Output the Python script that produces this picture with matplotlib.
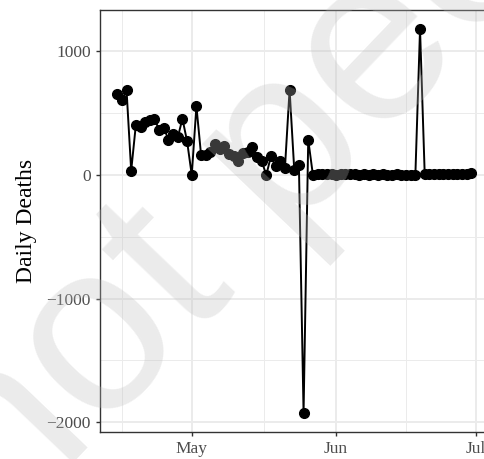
import numpy as np
import pandas as pd
import matplotlib
matplotlib.use('Agg')
import matplotlib.pyplot as plt
import matplotlib.dates as mdates

### DATA

# Daily deaths, one value per day from 15 April to 30 June
start_date = '2020-04-15'
end_date = '2020-06-30'
daily_deaths = [652, 606, 687, 35, 405, 392, 432, 446, 450, 368, 382, 285, 333, 305, 455, 272,
                0, 556, 162, 165, 189, 248, 214, 236, 172, 150, 114, 176, 189, 228, 148, 114,
                0, 152, 70, 112, 55, 690, 42, 80, -1925, 285,
                2, 4, 5, 6, 4, 3, 5, 7, 4, 8, 3, 5, 2, 4, 3, 6, 2, 3, 4, 2, 3, 1, 2,
                1180,
                10, 8, 6, 5, 4, 7, 12, 6, 5, 9, 14]
dates = pd.date_range(start_date, end_date, freq='D')

x_major = pd.to_datetime(['2020-05-01', '2020-06-01', '2020-07-01'])
x_major_labels = ['May', 'Jun', 'Jul']
x_minor = pd.to_datetime(['2020-04-16 00:00', '2020-05-16 12:00', '2020-06-16 00:00'])
y_major = [-2000, -1000, 0, 1000]
y_minor = [-1500, -500, 500]

watermark = 'not peer reviewed'

### PLOT

plt.rcParams['font.family'] = ['Liberation Serif', 'DejaVu Serif']

fig = plt.figure(figsize=(4.84, 4.59), dpi=100)
# panel runs past the right edge, like the cropped original
ax = fig.add_axes([0.2056, 0.0588, 0.8047, 0.9194])

ax.plot(dates, daily_deaths, color='black', linewidth=1.4, zorder=3)
ax.plot(dates, daily_deaths, 'o', color='black', markersize=7, zorder=4)

# ggplot-like expansion of 5%
xnum = mdates.date2num(dates)
xr = xnum.max() - xnum.min()
ax.set_xlim(xnum.min() - 0.05 * xr, xnum.max() + 0.05 * xr)
yr = max(daily_deaths) - min(daily_deaths)
ax.set_ylim(min(daily_deaths) - 0.05 * yr, max(daily_deaths) + 0.05 * yr)

ax.set_xticks(x_major)
ax.set_xticklabels(x_major_labels)
ax.set_xticks(x_minor, minor=True)
ax.set_yticks(y_major)
ax.set_yticks(y_minor, minor=True)

ax.grid(which='major', color='#ebebeb', linewidth=1.4, zorder=0)
ax.grid(which='minor', color='#ebebeb', linewidth=0.7, zorder=0)
ax.set_axisbelow(True)

ax.tick_params(which='major', length=3.2, width=1, color='#333333',
               labelsize=12.5, labelcolor='#4d4d4d', pad=3)
ax.tick_params(which='minor', length=0)
for s in ax.spines.values():
    s.set_color('#333333')
    s.set_linewidth(1.0)

ax.set_ylabel('Daily Deaths', fontsize=17, labelpad=7)

# diagonal preprint watermark drawn over everything
fig.text(0.0136, -0.159, watermark, rotation=46.3, rotation_mode='anchor',
         ha='left', va='baseline', fontsize=173, family='Liberation Sans',
         color=(0.75, 0.75, 0.75), alpha=0.3, zorder=10)

plt.savefig('out.png', dpi=100)
